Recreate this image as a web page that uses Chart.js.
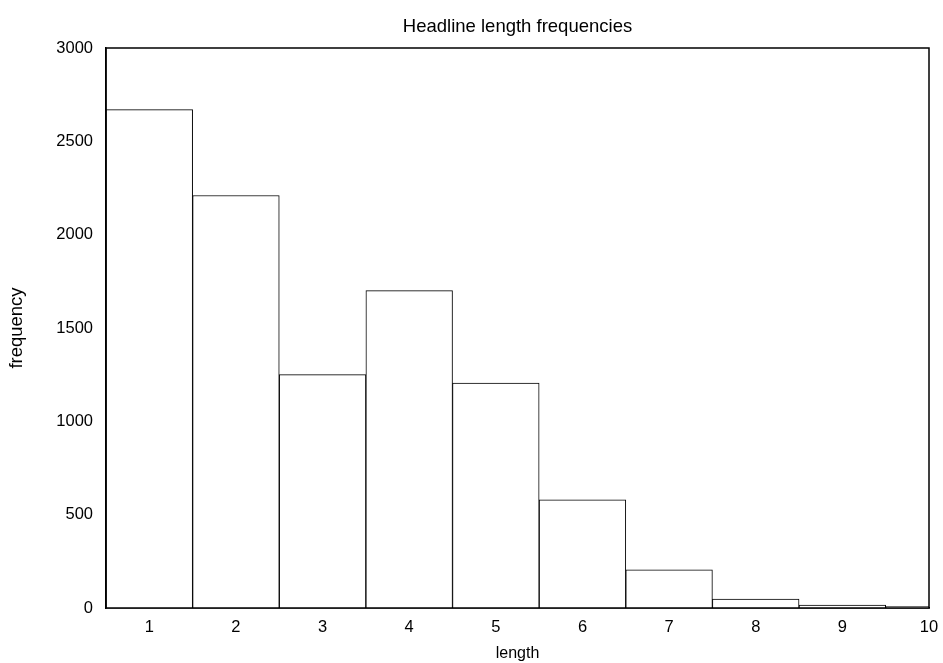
<!DOCTYPE html>
<html>
<head>
<meta charset="utf-8">
<script src="https://cdn.jsdelivr.net/npm/chart.js@4"></script>
<style>
  html, body { margin: 0; padding: 0; background: #fff; }
  canvas { display: block; }
</style>
</head>
<body>
<canvas id="chart" width="943" height="663"></canvas>
<script>
// headline length histogram
const lengths = [1, 2, 3, 4, 5, 6, 7, 8, 9, 10];
const frequencies = [2670, 2210, 1250, 1700, 1205, 580, 205, 48, 15, 7];
const yTicks = [0, 500, 1000, 1500, 2000, 2500, 3000];

const FONT = 'Liberation Sans, Arial, sans-serif';

// draw the box round the plot area
const frame = {
  id: 'frame',
  afterDraw(chart) {
    const { ctx, chartArea: a } = chart;
    ctx.save();
    ctx.strokeStyle = '#000';
    ctx.lineWidth = 1.5;
    ctx.strokeRect(a.left, a.top, a.right - a.left, a.bottom - a.top);
    ctx.restore();
  }
};

new Chart(document.getElementById('chart'), {
  type: 'bar',
  data: {
    datasets: [{
      data: lengths.map((x, i) => ({ x: x, y: frequencies[i] })),
      backgroundColor: '#fff',
      borderColor: '#000',
      borderWidth: 1,
      barPercentage: 1,
      categoryPercentage: 1
    }]
  },
  options: {
    responsive: false,
    animation: false,
    layout: { padding: { top: 0, right: 14, bottom: 0, left: 0 } },
    plugins: {
      legend: { display: false },
      tooltip: { enabled: false }
    },
    scales: {
      x: {
        type: 'linear',
        offset: false,
        min: 0.5,
        max: 10,
        afterBuildTicks: s => { s.ticks = lengths.map(v => ({ value: v })); },
        afterFit: s => { s.height = 55; s.paddingLeft = 0; s.paddingRight = 0; },
        grid: { display: false, drawTicks: false, offset: false },
        border: { color: '#000', width: 1.5 },
        ticks: { color: '#000', padding: 10, font: { family: FONT, size: 16.5 }, callback: v => String(v) },
        title: {
          display: true,
          text: 'length',
          color: '#000',
          font: { family: FONT, size: 16 },
          padding: { top: 0, bottom: 0 }
        }
      },
      // top axis only carries the chart title, centred over the plot
      top: {
        type: 'linear',
        position: 'top',
        min: 0,
        max: 1,
        afterFit: s => { s.height = 48; s.paddingLeft = 0; s.paddingRight = 0; },
        grid: { display: false, drawTicks: false },
        border: { display: false },
        ticks: { display: false },
        title: {
          display: true,
          text: 'Headline length frequencies',
          color: '#000',
          font: { family: FONT, size: 18.5 },
          padding: { top: 16, bottom: 0 }
        }
      },
      y: {
        min: 0,
        max: 3000,
        afterBuildTicks: s => { s.ticks = yTicks.map(v => ({ value: v })); },
        afterFit: s => { s.width = 106; },
        grid: { display: false, drawTicks: false },
        border: { color: '#000', width: 1.5 },
        ticks: { color: '#000', padding: 13, font: { family: FONT, size: 16.5 }, callback: v => String(v) },
        title: {
          display: true,
          text: 'frequency',
          color: '#000',
          font: { family: FONT, size: 18.5 },
          padding: { top: 6, bottom: 0 }
        }
      }
    }
  },
  plugins: [frame]
});
</script>
</body>
</html>
